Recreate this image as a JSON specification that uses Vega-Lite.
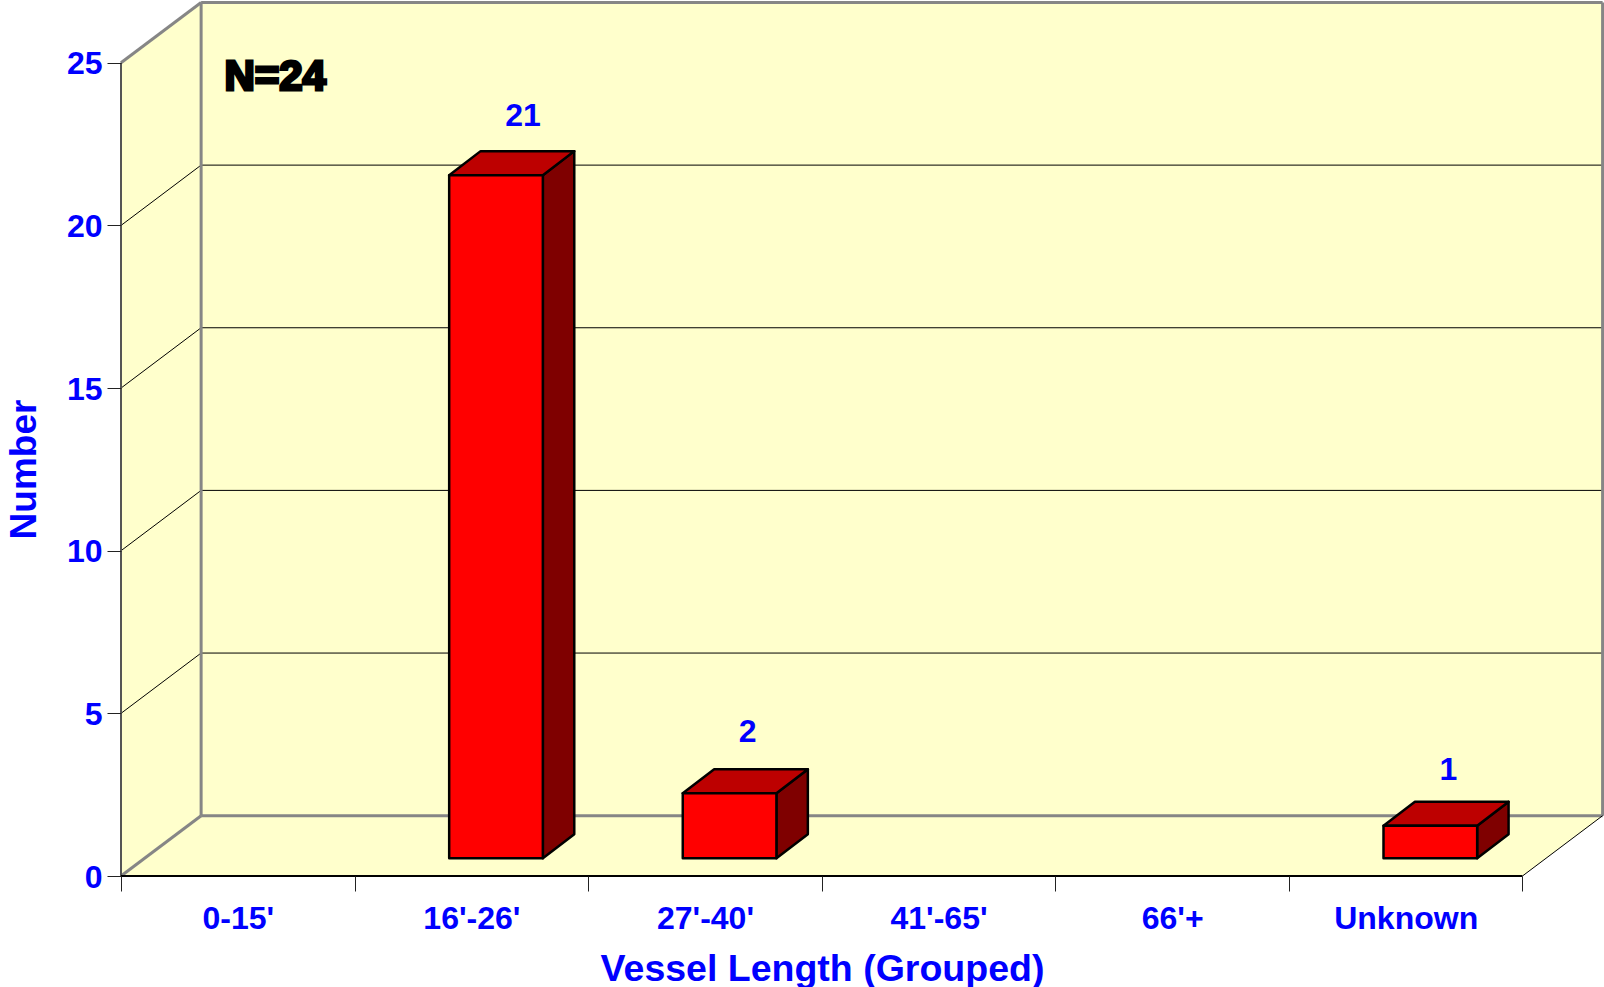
{
"$schema":"https://vega.github.io/schema/vega-lite/v6.json",
"width":1483,"height":876,
"autosize":"none",
"padding":{"left":121,"top":0,"right":0,"bottom":111},
"background":"white",
"config":{"view":{"stroke":null}},
"datasets":{
"bars":[{"category":"0-15'","pos":0,"value":0},{"category":"16'-26'","pos":1,"value":21},{"category":"27'-40'","pos":2,"value":2},{"category":"41'-65'","pos":3,"value":0},{"category":"66'+","pos":4,"value":0},{"category":"Unknown","pos":5,"value":1}],
"edge":[{"edge":0},{"edge":1}],
"levels":[{"level":0},{"level":5},{"level":10},{"level":15},{"level":20},{"level":25}]
},
"encoding":{
"x":{"field":"x","type":"quantitative","scale":{"domain":[0,6.349],"nice":false,"zero":false},
"axis":{"values":[0,1,2,3,4,5,6],"domain":false,"grid":false,"tickColor":"#222222","tickSize":15,"tickWidth":1,"labelExpr":"['0-15\\'','16\\'-26\\'','27\\'-40\\'','41\\'-65\\'','66\\'+','Unknown',''][datum.value]","labelOffset":116.8,"labelAlign":"center","labelBaseline":"top","labelPadding":12,"labelFont":"Liberation Sans","labelFontWeight":"bold","labelFontSize":32,"labelColor":"#0000FF","labelOverlap":false,"labelBound":false,"labelFlush":false,"title":"Vessel Length (Grouped)","titleFont":"Liberation Sans","titleFontWeight":"bold","titleFontSize":37.5,"titleColor":"#0000FF","titleX":701,"titleY":93,"titleAlign":"center","titleBaseline":"middle","zindex":1}},
"y":{"field":"y","type":"quantitative","scale":{"domain":[0,26.93],"nice":false,"zero":false},
"axis":{"values":[0,5,10,15,20,25],"domain":false,"grid":false,"tickColor":"#222222","tickSize":14,"tickWidth":1,"labelPadding":5,"labelOffset":1,"labelFont":"Liberation Sans","labelFontWeight":"bold","labelFontSize":32,"labelColor":"#0000FF","labelOverlap":false,"labelBound":false,"labelFlush":false,"title":"Number","titleFont":"Liberation Sans","titleFontWeight":"bold","titleFontSize":37,"titleColor":"#0000FF","titleX":-97,"titleY":469,"titleAlign":"center","titleBaseline":"middle","zindex":1}}
},
"layer":[
{"data":{"name":"edge"},"transform":[{"calculate":"datum.edge*0.343","as":"x"},{"calculate":"datum.edge*1.854","as":"y"},{"calculate":"25+datum.edge*1.854","as":"y2"}],
 "mark":{"type":"area","fill":"#FFFFCC","orient":"vertical"},"encoding":{"y2":{"field":"y2"}}},
{"data":{"name":"edge"},"transform":[{"filter":"datum.edge==0"},{"calculate":"0.343","as":"x"},{"calculate":"6.343","as":"x2"},{"calculate":"1.854","as":"y"},{"calculate":"26.854","as":"y2"}],
 "mark":{"type":"rect","fill":"#FFFFCC"},"encoding":{"x2":{"field":"x2"},"y2":{"field":"y2"}}},
{"data":{"name":"edge"},"transform":[{"calculate":"datum.edge*0.343","as":"x"},{"calculate":"6+datum.edge*0.343","as":"x2"},{"calculate":"datum.edge*1.854","as":"y"}],
 "mark":{"type":"area","fill":"#FFFFCC","orient":"horizontal"},"encoding":{"x2":{"field":"x2"}}},
{"data":{"name":"levels"},"transform":[{"filter":"datum.level>0 && datum.level<25"},{"calculate":"0.343","as":"x"},{"calculate":"6.343","as":"x2"},{"calculate":"datum.level+1.854","as":"y"}],
 "mark":{"type":"rule","color":"#000000","strokeWidth":1},"encoding":{"x2":{"field":"x2"}}},
{"data":{"name":"levels"},"transform":[{"filter":"datum.level>0 && datum.level<25"},{"calculate":"0","as":"x"},{"calculate":"0.343","as":"x2"},{"calculate":"datum.level","as":"y"},{"calculate":"datum.level+1.854","as":"y2"}],
 "mark":{"type":"rule","color":"#000000","strokeWidth":1},"encoding":{"x2":{"field":"x2"},"y2":{"field":"y2"}}},
{"data":{"name":"levels"},"transform":[{"filter":"datum.level==0 || datum.level==25"},{"calculate":"0.343","as":"x"},{"calculate":"6.343","as":"x2"},{"calculate":"datum.level+1.854","as":"y"}],
 "mark":{"type":"rule","color":"#868686","strokeWidth":3},"encoding":{"x2":{"field":"x2"}}},
{"data":{"name":"levels"},"transform":[{"filter":"datum.level==0 || datum.level==25"},{"calculate":"0","as":"x"},{"calculate":"0.343","as":"x2"},{"calculate":"datum.level","as":"y"},{"calculate":"datum.level+1.854","as":"y2"}],
 "mark":{"type":"rule","color":"#868686","strokeWidth":3},"encoding":{"x2":{"field":"x2"},"y2":{"field":"y2"}}},
{"data":{"name":"edge"},"transform":[{"calculate":"datum.edge*6+0.343","as":"x"},{"calculate":"1.854","as":"y"},{"calculate":"26.854","as":"y2"}],
 "mark":{"type":"rule","color":"#868686","strokeWidth":3},"encoding":{"y2":{"field":"y2"}}},
{"data":{"name":"edge"},"transform":[{"filter":"datum.edge==0"},{"calculate":"0","as":"x"},{"calculate":"0","as":"y"},{"calculate":"25","as":"y2"}],
 "mark":{"type":"rule","color":"#555555","strokeWidth":2},"encoding":{"y2":{"field":"y2"}}},
{"data":{"name":"edge"},"transform":[{"filter":"datum.edge==0"},{"calculate":"0","as":"x"},{"calculate":"6","as":"x2"},{"calculate":"0","as":"y"}],
 "mark":{"type":"rule","color":"#000000","strokeWidth":2},"encoding":{"x2":{"field":"x2"}}},
{"data":{"name":"edge"},"transform":[{"filter":"datum.edge==0"},{"calculate":"6","as":"x"},{"calculate":"6.343","as":"x2"},{"calculate":"0","as":"y"},{"calculate":"1.854","as":"y2"}],
 "mark":{"type":"rule","color":"#000000","strokeWidth":1},"encoding":{"x2":{"field":"x2"},"y2":{"field":"y2"}}},
{"data":{"name":"bars"},"transform":[{"filter":"datum.value>0"},{"calculate":"[0,1]","as":"edge"},{"flatten":["edge"]},{"calculate":"datum.pos+0.806+datum.edge*0.1345","as":"x"},{"calculate":"0.544+datum.edge*0.74","as":"y"},{"calculate":"0.544+datum.value+datum.edge*0.74","as":"y2"}],
 "mark":{"type":"area","fill":"#7F0000","stroke":"#000000","strokeWidth":2.5,"strokeJoin":"round","orient":"vertical"},"encoding":{"y2":{"field":"y2"},"detail":{"field":"category"}}},
{"data":{"name":"bars"},"transform":[{"filter":"datum.value>0"},{"calculate":"[0,1]","as":"edge"},{"flatten":["edge"]},{"calculate":"datum.pos+0.405+datum.edge*0.1345","as":"x"},{"calculate":"datum.pos+0.806+datum.edge*0.1345","as":"x2"},{"calculate":"0.544+datum.value+datum.edge*0.74","as":"y"}],
 "mark":{"type":"area","fill":"#BD0000","stroke":"#000000","strokeWidth":2.5,"strokeJoin":"round","orient":"horizontal"},"encoding":{"x2":{"field":"x2"},"detail":{"field":"category"}}},
{"data":{"name":"bars"},"transform":[{"filter":"datum.value>0"},{"calculate":"datum.pos+0.405","as":"x"},{"calculate":"datum.pos+0.806","as":"x2"},{"calculate":"0.544","as":"y"},{"calculate":"0.544+datum.value","as":"y2"}],
 "mark":{"type":"rect","fill":"#FF0000","stroke":"#000000","strokeWidth":2.5,"strokeJoin":"round"},"encoding":{"x2":{"field":"x2"},"y2":{"field":"y2"}}},
{"data":{"name":"bars"},"transform":[{"filter":"datum.value>0"},{"calculate":"datum.pos+0.645","as":"x"},{"calculate":"datum.value+(datum.value==1?2.25:datum.value==2?2.43:2.37)","as":"y"}],
 "mark":{"type":"text","align":"left","baseline":"middle","font":"Liberation Sans","fontWeight":"bold","fontSize":32,"color":"#0000FF"},"encoding":{"text":{"field":"value","type":"quantitative"}}},
{"data":{"values":[{"note":"N=24","x":0.66,"y":24.55}]},
 "mark":{"type":"text","align":"center","baseline":"middle","font":"Liberation Sans","fontWeight":"bold","fontSize":42,"color":"#000000","stroke":"#000000","strokeWidth":3},"encoding":{"text":{"field":"note","type":"nominal"}}}
]
}
